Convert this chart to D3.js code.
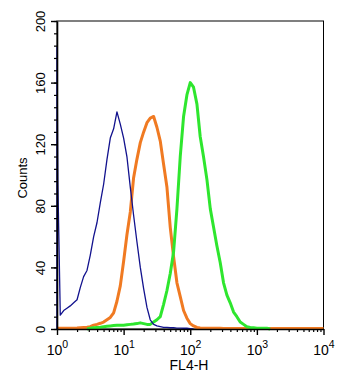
<!DOCTYPE html>
<html>
<head>
<meta charset="utf-8">
<script src="https://cdn.jsdelivr.net/npm/d3@7/dist/d3.min.js"></script>
<style>
  body { margin: 0; background: #fff; }
  text { font-family: Arial, "Liberation Sans", sans-serif; fill: #000; }
</style>
</head>
<body>
<div id="chart"></div>
<script>
// FL4-H channel centres (log spaced)
const channels = [
  1, 1.03, 1.12, 1.26, 1.41, 1.58, 1.78, 2.00, 2.24, 2.51, 2.82,
  3.16, 3.55, 3.98, 4.47, 5.01, 5.62, 6.31, 7.08, 7.94, 8.91,
  10, 11.2, 12.6, 14.1, 15.8, 17.8, 20.0, 22.4, 25.1, 28.2,
  31.6, 35.5, 39.8, 44.7, 50.1, 56.2, 63.1, 70.8, 79.4, 89.1,
  100, 112, 126, 141, 158, 178, 200, 224, 251, 282,
  316, 355, 398, 447, 501, 562, 631, 708, 794, 891,
  1000, 1122, 1259, 1413, 1585, 1778, 1995, 2239, 2512, 2818,
  3162, 3548, 3981, 4467, 5012, 5623, 6310, 7079, 7943, 8913,
  10000
];

// counts per channel, one array per histogram
const blueCounts = [
  183, 95, 9, 12, 13.5, 15, 17, 19, 27, 34, 38,
  48, 60, 69, 82, 94, 110, 124, 130, 141, 133,
  124, 112, 92, 74, 57, 40, 26, 14, 6, 3,
  2, 1.5, 1, 1, 0.8, 0.8, 0.6, 0.6, 0.5, 0.5,
  0.3, 0, 0, 0, 0, 0, 0, 0, 0, 0,
  0, 0, 0, 0, 0, 0, 0, 0, 0, 0,
  0, 0, 0, 0, 0, 0, 0, 0, 0, 0,
  0, 0, 0, 0, 0, 0, 0, 0, 0, 0,
  0
];

const orangeCounts = [
  0.5, 0.5, 0.5, 0.5, 0.5, 0.5, 0.5, 0.6, 0.8, 1, 1.2,
  1.5, 2.5, 3, 3.7, 4.5, 6, 7.5, 10.5, 18, 28,
  44, 61, 76, 98, 110, 121, 128, 134, 137, 138,
  131, 122, 107, 92, 66, 47, 30, 21, 12, 7,
  3.5, 2, 1, 0.7, 0.5, 0.5, 0.5, 0.5, 0.5, 0.5,
  0.4, 0.4, 0.4, 0.4, 0.4, 0.4, 0.4, 0.4, 0.4, 0.4,
  0.3, 0.3, 0.3, 0.3, 0.3, 0.3, 0.3, 0.3, 0.3, 0.3,
  0.3, 0.3, 0.3, 0.3, 0.3, 0.3, 0.3, 0.3, 0.3, 0.3,
  0.3
];

const greenCounts = [
  0, 0, 0, 0, 0, 0, 0, 0, 0, 0, 0,
  0.5, 0.8, 1, 1.2, 1.5, 1.8, 2, 2.2, 2.4, 2.5,
  2.5, 2.8, 3, 3.2, 3.5, 4, 3.5, 3, 3, 4.5,
  6, 8, 16, 25, 36, 50, 78, 112, 138, 152,
  160, 157, 146, 125, 112, 97, 78, 66, 54, 43,
  30, 22, 17, 11, 8, 4.5, 3, 1.5, 1, 0.8,
  0.5, 0.5, 0.5, 0.5, 0, 0, 0, 0, 0, 0,
  0, 0, 0, 0, 0, 0, 0, 0, 0, 0,
  0
];

const xTickValues = [1, 10, 100, 1000, 10000];
const xTickExps = ['0', '1', '2', '3', '4'];
const yTickValues = [0, 40, 80, 120, 160, 200];

const width = 358,
    height = 386;

const svg = d3.select('#chart').append('svg')
    .attr('width', width)
    .attr('height', height);

const x = d3.scaleLog().domain([1, 10000]).range([57, 323.5]);
const y = d3.scaleLinear().domain([0, 200]).range([329, 21]);

// frame
svg.append('rect')
    .attr('x', x(1))
    .attr('y', y(200))
    .attr('width', x(10000) - x(1))
    .attr('height', y(0) - y(200))
    .attr('fill', 'none')
    .attr('stroke', '#000')
    .attr('stroke-width', 1);

// histograms
const line = d3.line()
    .x(d => x(d[0]))
    .y(d => y(d[1]));

function points(counts, fromBase) {
    let first = counts.findIndex(c => c > 0),
        last = counts.length - 1;
    while (last > 0 && counts[last] <= 0) last--;
    first = Math.max(0, first - (fromBase ? 0 : 1));
    const pts = [];
    if (fromBase) pts.push([channels[first], 0]);
    for (let i = first; i <= Math.min(last + 1, counts.length - 1); i++) {
        pts.push([channels[i], counts[i]]);
    }
    return pts;
}

const series = [
    {counts: orangeCounts, color: '#f07a22', w: 3, base: false},
    {counts: greenCounts, color: '#2ee62e', w: 3, base: false},
    {counts: blueCounts, color: '#12128e', w: 1.3, base: true}
];

series.forEach(s => {
    svg.append('path')
        .datum(points(s.counts, s.base))
        .attr('d', line)
        .attr('fill', 'none')
        .attr('stroke', s.color)
        .attr('stroke-width', s.w)
        .attr('stroke-linejoin', 'round');
});

// x axis
const minorX = x.ticks().filter(t => xTickValues.indexOf(t) < 0);

svg.append('g')
    .attr('transform', 'translate(0,' + y(0) + ')')
    .call(d3.axisBottom(x).tickValues(minorX).tickSize(3).tickSizeOuter(0).tickFormat(''))
    .call(g => g.select('.domain').remove())
    .selectAll('line').attr('stroke-width', 1.2);

const xAxis = svg.append('g')
    .attr('transform', 'translate(0,' + y(0) + ')')
    .call(d3.axisBottom(x).tickValues(xTickValues).tickSize(6).tickSizeOuter(0).tickFormat(''));
xAxis.select('.domain').attr('stroke-width', 1.6);
xAxis.selectAll('line').attr('stroke-width', 1.4);

xAxis.selectAll('.tick').append('text')
    .attr('y', 26)
    .attr('text-anchor', 'middle')
    .attr('font-size', 14)
    .attr('fill', '#000')
    .each(function (d, i) {
        const t = d3.select(this);
        t.append('tspan').text('10');
        t.append('tspan').attr('font-size', 10.5).attr('dy', -7).text(xTickExps[i]);
    });

svg.append('text')
    .attr('x', 189)
    .attr('y', 370)
    .attr('text-anchor', 'middle')
    .attr('font-size', 14)
    .text('FL4-H');

// y axis
svg.append('g')
    .attr('transform', 'translate(' + x(1) + ',0)')
    .call(d3.axisLeft(y).tickValues(d3.range(0, 201, 8)).tickSize(3).tickSizeOuter(0).tickFormat(''))
    .call(g => g.select('.domain').remove())
    .selectAll('line').attr('stroke-width', 1.2);

const yAxis = svg.append('g')
    .attr('transform', 'translate(' + x(1) + ',0)')
    .call(d3.axisLeft(y).tickValues(yTickValues).tickSize(6).tickSizeOuter(0).tickFormat(''));
yAxis.select('.domain').attr('stroke-width', 1.6);
yAxis.selectAll('line').attr('stroke-width', 1.4);

yAxis.selectAll('.tick').append('text')
    .attr('transform', 'translate(-12,0) rotate(-90)')
    .attr('text-anchor', 'middle')
    .attr('font-size', 13)
    .attr('fill', '#000')
    .text(d => d);

svg.append('text')
    .attr('transform', 'translate(27,178) rotate(-90)')
    .attr('text-anchor', 'middle')
    .attr('font-size', 13)
    .text('Counts');
</script>
</body>
</html>
